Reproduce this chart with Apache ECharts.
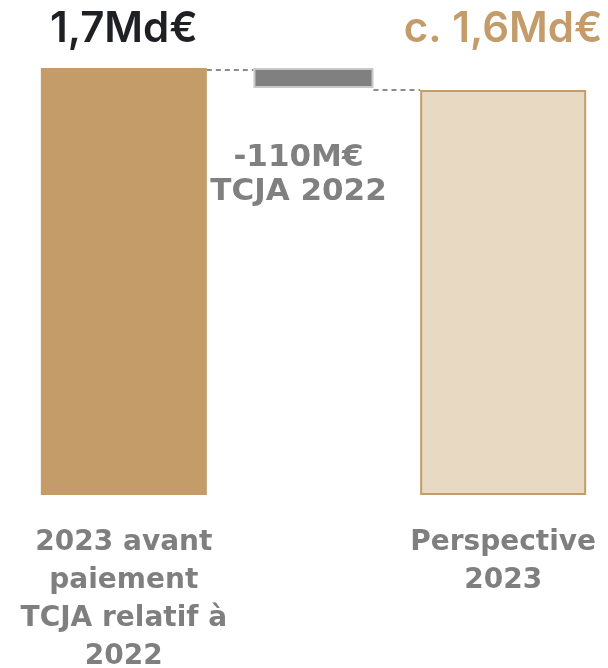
<!DOCTYPE html>
<html><head><meta charset="utf-8">
<script src="https://cdn.jsdelivr.net/npm/echarts@6/dist/echarts.min.js"></script>
<style>html,body{margin:0;padding:0;background:#fff}#c{width:608px;height:668px}</style>
</head><body><div id="c"></div>
<script>
// Data (M€)
const categories = ['2023 avant\npaiement\nTCJA relatif à\n2022', '', 'Perspective\n2023'];
const totals = [1700, null, 1612];          // full bars
const deltaBase = [null, 1620, null];       // invisible base of the change bar
const deltaValue = [null, 80, null];        // drawn size of the change bar (labelled -110M€)
const topLabels = ['1,7Md€', '', 'c. 1,6Md€'];
const deltaLabel = '-110M€\nTCJA 2022';

const FONT_TOP = 'Inter';
const FONT = 'DejaVu Sans';
const gold = '#c39c69';
const chart = echarts.init(document.getElementById('c'));
chart.setOption({
  animation: false,
  grid: { left: 29, right: 10, top: 68, bottom: 173, outerBoundsMode: 'none', containLabel: false },
  xAxis: [
    { type: 'category', data: categories, axisLine: { show: false }, axisTick: { show: false },
      axisLabel: { interval: 0, color: '#7f7f7f', fontFamily: FONT, fontWeight: 700, fontSize: 28, lineHeight: 38, margin: 29 } },
    { type: 'category', data: categories, show: false }
  ],
  yAxis: { type: 'value', min: 0, max: 1700, show: false, splitLine: { show: false } },
  series: [
    { type: 'bar', xAxisIndex: 0, barWidth: 166,
      data: totals.map((v, i) => v == null ? null : {
        value: v,
        itemStyle: i === 0 ? { color: gold } : { color: '#e8d9c3', borderColor: gold, borderWidth: 2 },
        label: { show: true, position: 'top', formatter: topLabels[i], fontFamily: FONT_TOP, fontWeight: 600, fontSize: 42,
          color: i === 0 ? '#1f1f26' : gold, distance: i === 0 ? 18 : 40 }
      }) },
    { type: 'bar', xAxisIndex: 1, stack: 'd', barWidth: 120, itemStyle: { color: 'transparent' }, data: deltaBase, silent: true },
    { type: 'bar', xAxisIndex: 1, stack: 'd', barWidth: 120,
      itemStyle: { color: '#808080', borderColor: '#c8c8c8', borderWidth: 2 },
      label: { show: true, position: 'bottom', distance: 53, offset: [-15, 0], formatter: deltaLabel,
        color: '#808080', fontFamily: FONT, fontWeight: 700, fontSize: 31, lineHeight: 34 },
      data: deltaValue },
    { type: 'custom', xAxisIndex: 0, silent: true,
      data: [[0, 1700, 1, 166, 120], [1, 1620, 2, 120, 166]],
      renderItem: function (params, api) {
        const a = api.coord([api.value(0), api.value(1)]);
        const b = api.coord([api.value(2), api.value(1)]);
        return { type: 'line',
          shape: { x1: a[0] + api.value(3) / 2, y1: a[1] + 2, x2: b[0] - api.value(4) / 2, y2: b[1] + 2 },
          style: { stroke: '#8c8c8c', lineWidth: 2, lineDash: [5, 4] } };
      } }
  ]
});
</script></body></html>
